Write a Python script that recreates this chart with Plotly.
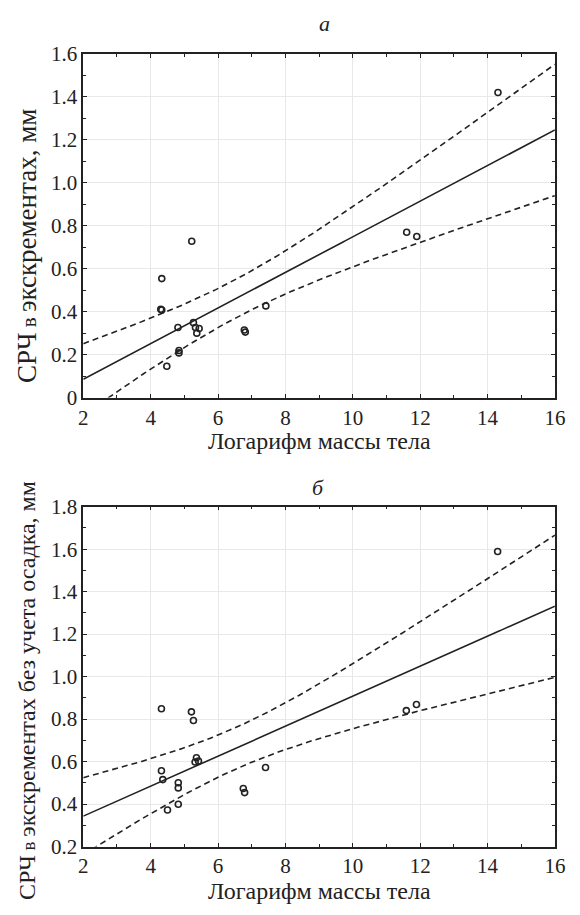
import numpy as np
import plotly.graph_objects as go

# ---- data ----
log_mass_a = [14.31, 11.60, 11.90, 5.22, 4.33, 4.30, 4.33, 7.42, 4.81, 5.27,
              5.33, 5.44, 5.37, 6.78, 6.81, 4.84, 4.84, 4.48]
srch_a = [1.420, 0.770, 0.750, 0.728, 0.554, 0.411, 0.408, 0.427, 0.326, 0.349,
          0.326, 0.322, 0.300, 0.315, 0.305, 0.219, 0.208, 0.146]

log_mass_b = [14.30, 11.59, 11.89, 4.32, 5.21, 5.27, 5.36, 5.32, 5.42, 4.32,
              4.36, 7.41, 4.82, 4.82, 6.75, 6.79, 4.82, 4.50]
srch_b = [1.589, 0.840, 0.869, 0.849, 0.834, 0.793, 0.618, 0.598, 0.603, 0.557,
          0.515, 0.572, 0.500, 0.476, 0.473, 0.454, 0.399, 0.372]

x_ticks = [2, 4, 6, 8, 10, 12, 14, 16]
y_ticks_a = [0, 0.2, 0.4, 0.6, 0.8, 1.0, 1.2, 1.4, 1.6]
y_ticktext_a = ["0", "0.2", "0.4", "0.6", "0.8", "1.0", "1.2", "1.4", "1.6"]
y_ticks_b = [0.2, 0.4, 0.6, 0.8, 1.0, 1.2, 1.4, 1.6, 1.8]
y_ticktext_b = ["0.2", "0.4", "0.6", "0.8", "1.0", "1.2", "1.4", "1.6", "1.8"]

T_CRIT = 2.12  # Student t, 0.975, df = 16

FONT = "'Liberation Serif', 'Times New Roman', Times, serif"
INK = "#222222"


def fit_band(x, y, grid):
    x = np.asarray(x, float)
    y = np.asarray(y, float)
    n = len(x)
    b, a = np.polyfit(x, y, 1)
    resid = y - (a + b * x)
    s = np.sqrt(np.sum(resid ** 2) / (n - 2))
    xm = x.mean()
    sxx = np.sum((x - xm) ** 2)
    yhat = a + b * grid
    half = T_CRIT * s * np.sqrt(1.0 / n + (grid - xm) ** 2 / sxx)
    return yhat, yhat - half, yhat + half


grid = np.linspace(2, 16, 300)

fig = go.Figure()

for x, y, xa, ya in [(log_mass_a, srch_a, "x", "y"), (log_mass_b, srch_b, "x2", "y2")]:
    yhat, lo, hi = fit_band(x, y, grid)
    fig.add_trace(go.Scatter(x=grid, y=hi, mode="lines", xaxis=xa, yaxis=ya,
                             line=dict(color=INK, width=1.6, dash="6px,4px"), showlegend=False))
    fig.add_trace(go.Scatter(x=grid, y=lo, mode="lines", xaxis=xa, yaxis=ya,
                             line=dict(color=INK, width=1.6, dash="6px,4px"), showlegend=False))
    fig.add_trace(go.Scatter(x=grid, y=yhat, mode="lines", xaxis=xa, yaxis=ya,
                             line=dict(color=INK, width=1.6), showlegend=False))
    fig.add_trace(go.Scatter(x=x, y=y, mode="markers", xaxis=xa, yaxis=ya,
                             marker=dict(symbol="circle-open", size=6, color=INK,
                                         line=dict(width=1.6, color=INK)),
                             showlegend=False, cliponaxis=False))

XDOM = [80.5 / 580, 565.5 / 580]

common_x = dict(range=[2, 16], tickvals=x_ticks, showline=True, linecolor=INK, linewidth=1.5,
                mirror="ticks", ticks="inside", ticklen=4, tickcolor=INK, tickwidth=1,
                showgrid=True, gridcolor="#e8e8e8", gridwidth=1, zeroline=False,
                tickfont=dict(family=FONT, size=21, color=INK),
                minor=dict(dtick=1, ticks="inside", ticklen=3, tickcolor=INK, showgrid=False),
                domain=XDOM)
common_y = dict(showline=True, linecolor=INK, linewidth=1.5,
                mirror="ticks", ticks="inside", ticklen=4, tickcolor=INK, tickwidth=1,
                showgrid=True, gridcolor="#e8e8e8", gridwidth=1, zeroline=False,
                tickfont=dict(family=FONT, size=21, color=INK),
                minor=dict(dtick=0.1, ticks="inside", ticklen=3, tickcolor=INK, showgrid=False))

fig.update_layout(
    width=580, height=915,
    margin=dict(l=0, r=0, t=0, b=0),
    paper_bgcolor="white", plot_bgcolor="white",
    xaxis=dict(**common_x, anchor="y"),
    yaxis=dict(**common_y, range=[0, 1.6], tickvals=y_ticks_a, ticktext=y_ticktext_a,
               domain=[1 - 396 / 915, 1 - 43 / 915], anchor="x"),
    xaxis2=dict(**common_x, anchor="y2"),
    yaxis2=dict(**common_y, range=[0.2, 1.8], tickvals=y_ticks_b, ticktext=y_ticktext_b,
                domain=[1 - 857 / 915, 1 - 508 / 915], anchor="x2"),
    font=dict(family=FONT, color=INK),
    annotations=[
        dict(text="<i>а</i>", x=329 / 580, y=1 - 12 / 915, xref="paper", yref="paper",
             showarrow=False, font=dict(family=FONT, size=22, color=INK), xanchor="center", yanchor="middle"),
        dict(text="<i>б</i>", x=322 / 580, y=1 - 488 / 915, xref="paper", yref="paper",
             showarrow=False, font=dict(family=FONT, size=22, color=INK), xanchor="center", yanchor="middle"),
        dict(text="Логарифм массы тела", x=323 / 580, y=1 - 441 / 915, xref="paper", yref="paper",
             showarrow=False, font=dict(family=FONT, size=24, color=INK), xanchor="center", yanchor="middle"),
        dict(text="Логарифм массы тела", x=323 / 580, y=1 - 903 / 915, xref="paper", yref="paper",
             showarrow=False, font=dict(family=FONT, size=24, color=INK), xanchor="center", yanchor="middle"),
        dict(text="СРЧ<span style='font-size:21px'> в </span>экскрементах, мм", x=22 / 580, y=1 - 240 / 915,
             xref="paper", yref="paper", textangle=-90,
             showarrow=False, font=dict(family=FONT, size=27, color=INK), xanchor="center", yanchor="middle"),
        dict(text="СРЧ<span style='font-size:19px'> в </span>экскрементах без учета осадка, мм", x=22 / 580,
             y=1 - 697 / 915, xref="paper", yref="paper", textangle=-90,
             showarrow=False, font=dict(family=FONT, size=24, color=INK), xanchor="center", yanchor="middle"),
    ],
)

fig.write_html("out.html")
